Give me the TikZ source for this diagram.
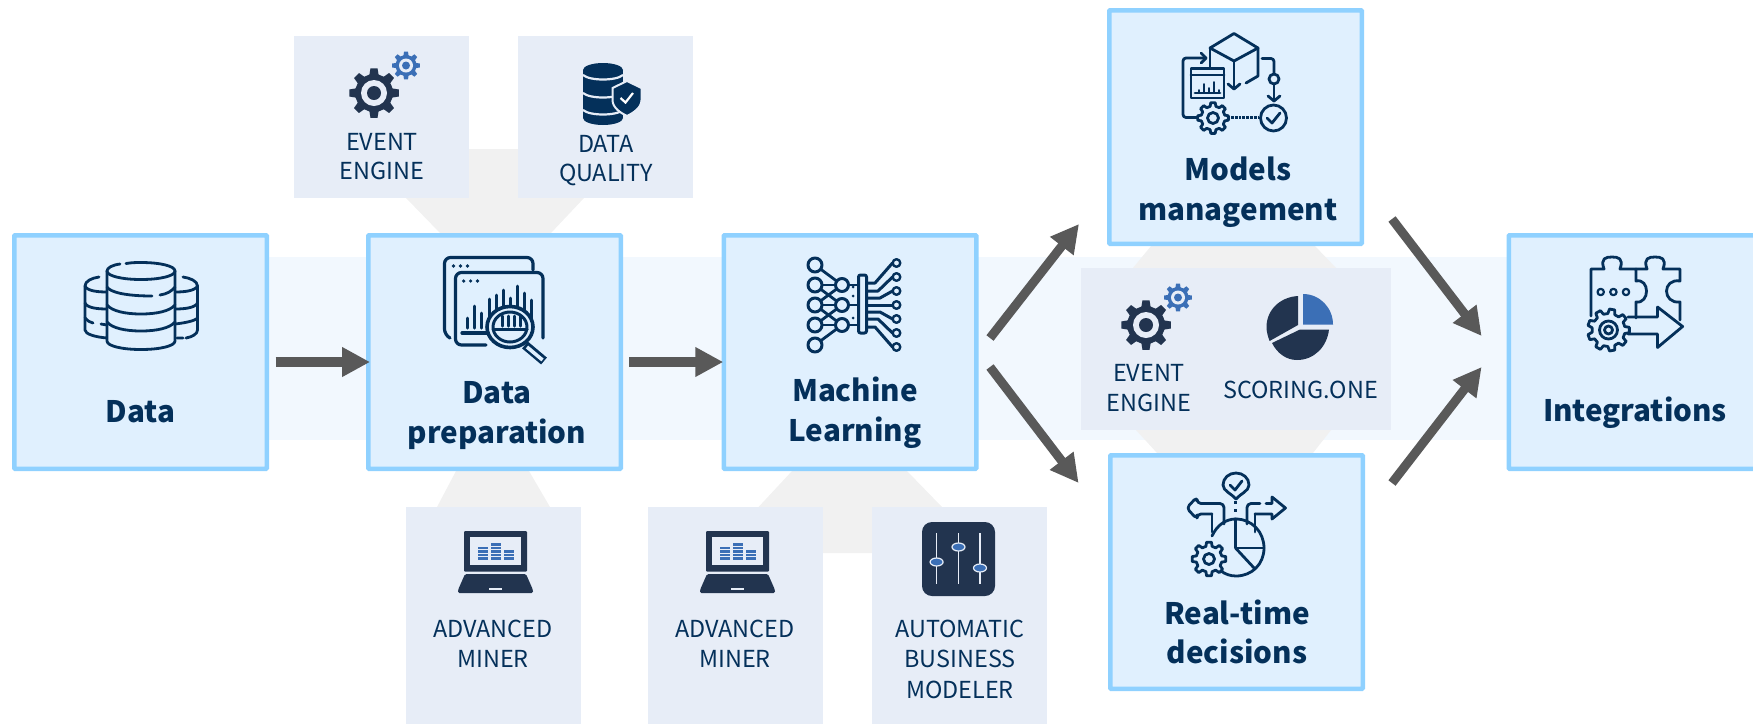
\documentclass[tikz,border=0pt]{standalone}
\usepackage{fontspec}
\usetikzlibrary{arrows.meta,calc}
\newfontfamily\labelfont{Noto Sans CJK SC}
\definecolor{navy}{HTML}{04305A}
\definecolor{darkico}{HTML}{22344F}
\definecolor{blueico}{HTML}{3B6FB6}
\definecolor{boxfill}{HTML}{E0F0FE}
\definecolor{boxline}{HTML}{8FD1FF}
\definecolor{toolfill}{HTML}{E7EDF7}
\definecolor{halo}{HTML}{F1F1F1}
\definecolor{bandfill}{HTML}{F2F8FE}
\definecolor{flowcol}{HTML}{595959}
\newcommand\myGear[3]{% teeth, outer, root
  ({-180/#1}:#3) \foreach \i in {0,...,\numexpr#1-1\relax}{
   -- ({\i*360/#1-180/#1*0.62}:#3) -- ({\i*360/#1-180/#1*0.36}:#2) -- ({\i*360/#1+180/#1*0.36}:#2) -- ({\i*360/#1+180/#1*0.62}:#3)
  } -- cycle}
\newcommand\myEventIcon[2]{%
  \begin{scope}[shift={(#1,#2)}]
   \fill[darkico] \myGear{8}{25}{19};
   \fill[toolfill] (0,0) circle (13);
   \fill[darkico] (0,0) circle (7);
   \begin{scope}[shift={(32,-27.5)}]
    \fill[blueico] \myGear{8}{14}{10.5};
    \fill[toolfill] (0,0) circle (7);
    \fill[blueico] (0,0) circle (4);
   \end{scope}
  \end{scope}}
\newcommand\myLaptop[1]{%
  \begin{scope}[shift={(#1,0)}]
   \fill[darkico,rounded corners=1] (464,531) rectangle (527,571.5);
   \fill[toolfill] (470,537) rectangle (520.5,565);
   \fill[darkico,rounded corners=1.5] (465,574) -- (526,574) -- (533,590) -- (533,593) -- (458,593) -- (458,590) -- cycle;
   \fill[toolfill] (489,587.5) rectangle (502,590);
   \foreach \c/\n in {478/4,490.6/5,503.6/3}{
     \foreach \k in {1,...,\n}{
       \fill[blueico] (\c,{561-\k*3.6}) rectangle ++(10,2.5);
     }}
  \end{scope}}
\tikzset{
 stage/.style={draw=boxline,fill=boxfill,line width=4.5pt,minimum width=252.5pt,minimum height=233.5pt,inner sep=0pt,outer sep=0pt,rounded corners=0.8pt},
 tool/.style={fill=toolfill,inner sep=0pt,outer sep=0pt},
 stagetext/.style={font=\labelfont\bfseries\fontsize{29.6}{40}\selectfont,text=navy,align=center,anchor=base,inner sep=0pt},
 tooltext/.style={font=\labelfont\fontsize{23.4}{30}\selectfont,text=navy,align=center,anchor=base,inner sep=0pt},
 flow/.style={draw=flowcol,line width=10pt,-{Triangle[length=28pt,width=28pt]},shorten >=0pt},
 ico/.style={draw=navy,line width=2.8pt,line cap=round,line join=round},
}
\begin{document}
\begin{tikzpicture}[x=1pt,y=-1pt]
\useasboundingbox (0,0) rectangle (1753,724);
\clip (0,0) rectangle (1753,724);
% background band and halos
\fill[bandfill] (20,257) rectangle (1520,440);
\fill[halo] (469,149) rectangle (518,198);
\fill[halo] (406,198) -- (584,198) -- (551,233) -- (440,233) -- cycle;
\fill[halo] (456,471) -- (529,471) -- (550,507) -- (437,507) -- cycle;
\fill[halo] (792,471) -- (907,471) -- (942,507) -- (872,507) -- (872,553) -- (823,553) -- (823,507) -- (758.5,507) -- cycle;
\fill[halo] (1151,246) -- (1315,246) -- (1336,268) -- (1133,268) -- cycle;
\fill[halo] (1136,430) -- (1331,430) -- (1313,453) -- (1157,453) -- cycle;
% stage boxes
\node[stage] (data) at (140.5,352) {};
\node[stage] (prep) at (494.5,352) {};
\node[stage] (ml) at (850,352) {};
\node[stage] (models) at (1235.5,127) {};
\node[stage] (real) at (1236.5,572) {};
\node[stage] (integ) at (1635,352) {};
% tool boxes
\node[tool,minimum width=175pt,minimum height=162pt] (evA) at (381.5,117) {};
\node[tool,minimum width=175pt,minimum height=162pt] (dq) at (605.5,117) {};
\node[tool,minimum width=175pt,minimum height=217pt] (amA) at (493.5,615.5) {};
\node[tool,minimum width=175pt,minimum height=217pt] (amB) at (735.5,615.5) {};
\node[tool,minimum width=175pt,minimum height=217pt] (abm) at (959.5,615.5) {};
\node[tool,minimum width=310pt,minimum height=162pt] (mid) at (1236,349) {};
% connectors
\draw[flow] ([xshift=8.75pt,yshift=-10pt]data.east) -- ([xshift=1.8pt,yshift=-10pt]prep.west);
\draw[flow] ([xshift=8.25pt,yshift=-10pt]prep.east) -- ([xshift=-0.5pt,yshift=-10pt]ml.west);
\draw[flow,line width=9pt] ([xshift=13.75pt,yshift=14pt]ml.east) -- ([xshift=-30.25pt,yshift=19.75pt]models.south west);
\draw[flow,line width=9pt] ([xshift=13.75pt,yshift=-15pt]ml.east) -- ([xshift=-31.65pt,yshift=-27.75pt]real.north west);
\draw[flow,line width=9pt] ([xshift=30.25pt,yshift=24.75pt]models.south east) -- ([xshift=-27.15pt,yshift=16pt]integ.west);
\draw[flow,line width=9pt] ([xshift=29.25pt,yshift=-27.75pt]real.north east) -- ([xshift=-27.15pt,yshift=-15pt]integ.west);
% stage labels
\node[stagetext] (tData) at (140.5,422.7) {Data};
\node[stagetext] (tPrepA) at (497,403) {Data};
\node[stagetext] (tPrepB) at (497,443) {preparation};
\node[stagetext] (tMlA) at (855,401) {Machine};
\node[stagetext] (tMlB) at (855,441.5) {Learning};
\node[stagetext] (tModA) at (1238,180) {Models};
\node[stagetext] (tModB) at (1238,220) {management};
\node[stagetext] (tRealA) at (1237,624) {Real-time};
\node[stagetext] (tRealB) at (1237,663) {decisions};
\node[stagetext] (tInt) at (1635,421.7) {Integrations};
% tool labels
\node[tooltext] (tEvA1) at (382,150) {EVENT};
\node[tooltext] (tEvA2) at (382,179) {ENGINE};
\node[tooltext] (tDq1) at (606,152) {DATA};
\node[tooltext] (tDq2) at (606,181) {QUALITY};
\node[tooltext] (tAmA1) at (493,637) {ADVANCED};
\node[tooltext] (tAmA2) at (493,667) {MINER};
\node[tooltext] (tAmB1) at (735,637) {ADVANCED};
\node[tooltext] (tAmB2) at (735,667) {MINER};
\node[tooltext] (tAbm1) at (960,637) {AUTOMATIC};
\node[tooltext] (tAbm2) at (960,667) {BUSINESS};
\node[tooltext] (tAbm3) at (960,698) {MODELER};
\node[tooltext] (tEvB1) at (1149,381.7) {EVENT};
\node[tooltext] (tEvB2) at (1149,411) {ENGINE};
\node[tooltext] (tSc) at (1300.6,398) {SCORING.ONE};
% event icons
\myEventIcon{374}{93}
\myEventIcon{1146}{325}
% data quality icon
\fill[navy] (583,70) rectangle (623,118);
\fill[navy] (603,70) ellipse (20 and 7);
\fill[navy] (603,118) ellipse (20 and 7);
\foreach \y in {75,93,110}{
  \draw[toolfill,line width=2.2pt] (583,\y) .. controls (590,{\y+6}) and (616,{\y+6}) .. (623,\y);
}
\fill[navy,draw=toolfill,line width=2pt] (627,81) -- (641.5,88) -- (641.5,100) .. controls (641.5,108) and (633,113) .. (627,116) .. controls (621,113) and (612.5,108) .. (612.5,100) -- (612.5,88) -- cycle;
\draw[white,line width=2.2pt] (620.5,98) -- (625.5,102.5) -- (633,93);
% data icon
\begin{scope}[ico]
 \draw (99,277) .. controls (92,278) and (85,281) .. (85,286) -- (85,330) .. controls (85,334) and (95,337) .. (107,338);
 \draw (85,286) .. controls (87,291) and (98,292) .. (107,292);
 \draw (85,303) .. controls (87,308) and (98,309) .. (107,309);
 \draw (85,318) .. controls (87,321) and (90,322) .. (93,323) (101,324) -- (107,325);
 \draw (183,277) .. controls (190,278) and (197.5,281) .. (197.5,286) -- (197.5,330) .. controls (197.5,334) and (192,337) .. (186,338) (177,338) -- (183,338);
 \draw (197.5,286) .. controls (195,291) and (184,292) .. (175,292);
 \draw (197.5,303) .. controls (195,308) and (184,309) .. (175,309);
 \draw (197.5,318) .. controls (195,321) and (184,323) .. (175,324);
 \fill[boxfill] (107,271) rectangle (175,341);
 \draw (126,263.5) .. controls (132,262.5) and (137,262.5) .. (141,262.5) .. controls (160,262.5) and (175,266) .. (175,271) .. controls (175,276) and (160,279.5) .. (141,279.5) .. controls (122,279.5) and (107,276) .. (107,271) .. controls (107,268) and (112,265) .. (120,264);
 \draw (107,271) -- (107,341) .. controls (107,346) and (122,349.5) .. (141,349.5) .. controls (160,349.5) and (175,346) .. (175,341) -- (175,271);
 \draw (107,287) .. controls (110,292) and (125,296) .. (152,296);
 \draw (160,295) .. controls (167,294) and (172,291) .. (175,287);
 \draw (107,305) .. controls (112,311) and (125,314) .. (141,314) .. controls (157,314) and (170,311) .. (175,305);
 \draw (107,322) .. controls (112,328) and (125,331) .. (141,331) .. controls (157,331) and (170,328) .. (175,322);
\end{scope}
% preparation icon
\begin{scope}[ico]
 \draw[line width=3.2pt,rounded corners=6] (533,270) -- (533,257.5) -- (444.5,257.5) -- (444.5,335) -- (450,338);
 \draw[line width=3.2pt,rounded corners=6] (486,345) -- (455.5,345) -- (455.5,272.5) -- (543,272.5) -- (543,338);
 \draw[line width=3.2pt] (462,333) -- (487,333);
 \foreach \x in {453.5,460.5,467.5}{\fill[navy] (\x,266) circle (1.8);}
 \foreach \x in {463.7,470.6,477.5}{\fill[navy] (\x,281) circle (1.8);}
 \foreach \x/\t in {467/318,474/306,481/313,489/299,496/295,503/290,510/298,517/286,524/293,531/300}{
   \draw[line width=3pt] (\x,\t) -- (\x,328);
 }
 \fill[boxfill] (510,327) ellipse (24 and 21);
 \draw[line width=3.6pt] (510,327) ellipse (23 and 20.5);
 \draw[line width=3pt] (510,327) ellipse (17 and 15);
 \foreach \x in {502,508,514,520}{\draw[line width=3pt] (\x,316) -- (\x,326);}
 \draw[line width=3pt] (493,329) -- (527,329);
 \draw[line width=9pt,line cap=butt] (525,345) -- (544,361);
 \draw[boxfill,line width=3.6pt,line cap=butt] (527,347) -- (542.5,360);
\end{scope}
% machine learning icon
\begin{scope}[ico]
 \foreach \a/\b in {265/285,285/285,285/305,305/285,305/305,305/325,325/305,325/325,345/325}{
  \draw (815,\a) -- (842,\b);
 }
 \foreach \y in {285,305,325}{\draw (842,\y) -- (858,\y);}
 \foreach \y in {265,285,305,325,345}{\draw[fill=boxfill,line width=3pt] (815,\y) circle (7);}
 \foreach \y in {285,305,325}{\draw[fill=boxfill,line width=3pt] (842,\y) circle (6.5);}
 \foreach \y in {287,296,318}{\fill[navy] (853,\y) circle (1.5);}
 \foreach \a/\b/\c in {283/263/875,291/277/878,298/291/880,305/305/880,312/319/880,319/333/878,327/347/875}{
  \draw[line width=3pt] (866,\a) -- (\c,\a) -- (892.5,\b);
 }
 \draw[fill=boxfill,rounded corners=2,line width=3pt] (858.5,275) rectangle (866.5,333);
 \foreach \y in {263,277,291,305,319,333,347}{\draw[fill=boxfill,line width=2.4pt] (896.5,\y) circle (3.8);}
\end{scope}
% models management icon
\begin{scope}[ico]
 \draw (1234,33.5) -- (1258,48) -- (1234,61) -- (1210,48) -- cycle;
 \draw (1210,48) -- (1210,68);
 \draw (1234,61) -- (1234,88);
 \draw (1228,84) -- (1234,89) -- (1240,84);
 \draw (1258,48) -- (1258,76) -- (1246,83);
 \draw[fill=boxfill] (1191,68.5) rectangle (1224,98);
 \draw (1191,75) -- (1224,75);
 \foreach \x/\t in {1199/90,1204/84,1209/88,1214/82,1219/90}{\draw[line width=1.8pt] (\x,\t) -- (\x,93);}
 \draw (1195,93) -- (1220,93);
 \draw[rounded corners=3] (1198,117.5) -- (1183,117.5) -- (1183,58) -- (1206,58);
 \draw (1201,53) -- (1206,58) -- (1201,63);
 \draw[rounded corners=3] (1262,58.5) -- (1274,58.5) -- (1274,74);
 \draw (1274,79) circle (5);
 \draw (1274,84) -- (1274,101);
 \draw (1268,96) -- (1274,101) -- (1280,96);
 \draw[densely dotted,line width=2.8pt,line cap=butt] (1231,117.5) -- (1259,117.5);
 \draw (1273.5,118) circle (13);
 \draw (1267,118) -- (1272,123) -- (1280,113);
 \begin{scope}[shift={(1213,118)}]
  \draw[fill=boxfill] \myGear{8}{15.5}{12};
  \draw (0,0) circle (5.5);
 \end{scope}
\end{scope}
% integrations icon
\begin{scope}[ico]
 \draw (1591,316) -- (1591,269) -- (1604,269) .. controls (1600,258) and (1606,257) .. (1612,257) .. controls (1618,257) and (1624,258) .. (1620,269) -- (1636,269) -- (1636,281) .. controls (1650,278) and (1650,304) .. (1636,302) -- (1636,318);
 \draw (1636,269) -- (1647,269) .. controls (1643,258) and (1649,257) .. (1655,257) .. controls (1661,257) and (1667,258) .. (1663,269) -- (1680,269) -- (1680,281) .. controls (1662,278) and (1662,304) .. (1680,302) -- (1680,320);
 \foreach \x in {1600.7,1613.4,1626}{\draw[line width=2.2pt] (\x,292) circle (3.2);}
 \draw (1628,317) -- (1657.5,317) -- (1657.5,307) -- (1682.6,326.5) -- (1657.5,347.5) -- (1657.5,334) -- (1628,334);
 \begin{scope}[shift={(1608.5,330)}]
  \draw[fill=boxfill] \myGear{9}{21}{16.5};
  \draw (0,0) circle (9);
  \draw (0,0) circle (4);
 \end{scope}
\end{scope}
% real-time icon
\begin{scope}[ico]
 \draw (1236,499) .. controls (1232,494) and (1223,491) .. (1223,485) .. controls (1223,478) and (1229,473) .. (1236,473) .. controls (1243,473) and (1249,478) .. (1249,485) .. controls (1249,491) and (1240,494) .. (1236,499);
 \draw (1230,485) -- (1235,490) -- (1242,481);
 \draw[dash pattern=on 3pt off 5pt,line cap=butt] (1235.5,501) -- (1235.5,517);
 \draw (1212,536) .. controls (1217,525) and (1226,519) .. (1235.5,519) .. controls (1252,519) and (1264,532) .. (1264,548) .. controls (1264,564) and (1252,576) .. (1236,576) .. controls (1230,576) and (1225,574) .. (1221,571);
 \draw (1235.5,519) -- (1235.5,548) -- (1264,548);
 \draw (1235.5,548) -- (1255,569);
 \draw (1212,532) -- (1212,514);
 \draw[rounded corners=4] (1224,524) -- (1224,503.5) -- (1197,503.5) -- (1197,497) -- (1186.5,508) -- (1197,519) -- (1197,514) -- (1212,514);
 \draw (1255,532) -- (1255,514);
 \draw[rounded corners=4] (1247,524) -- (1247,503.5) -- (1260,503.5);
 \draw (1266,503.5) -- (1272,503.5) -- (1272,497) -- (1285.5,508) -- (1272,519) -- (1272,514) -- (1255,514);
 \begin{scope}[shift={(1209,559)}]
  \draw[fill=boxfill] \myGear{8}{17}{13};
  \draw (0,0) circle (5.5);
 \end{scope}
\end{scope}
% scoring pie
\fill[blueico] (1303,324.5) -- (1303,294) .. controls (1320,294) and (1333,308) .. (1333,324.5) -- cycle;
\fill[darkico] (1298,296) .. controls (1280,297) and (1266.5,310) .. (1266.5,327) .. controls (1266.5,332) and (1268,337) .. (1269.6,341) -- (1298,325) -- cycle;
\fill[darkico] (1272,343) -- (1300,329.5) -- (1329,329.5) .. controls (1327,347) and (1314,360) .. (1297,360) .. controls (1286,360) and (1277,353) .. (1272,343) -- cycle;
% laptops
\myLaptop{0}
\myLaptop{242}
% sliders
\fill[darkico,rounded corners=10] (922,522) rectangle (995,596);
\foreach \x/\k in {936.6/562,958.5/547,980/568}{
  \draw[toolfill,line width=1.6pt] (\x,533) -- (\x,584);
  \fill[blueico,draw=toolfill,line width=1.2pt] (\x,\k) ellipse (6.5 and 4);
}
\end{tikzpicture}
\end{document}
